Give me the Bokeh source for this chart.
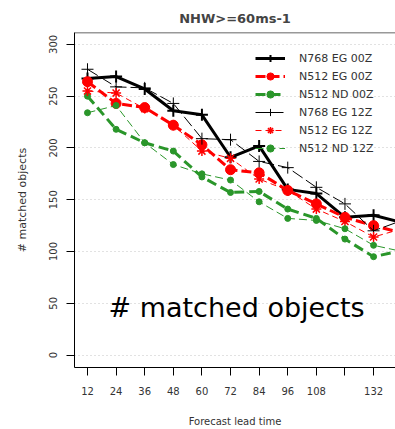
from bokeh.plotting import figure
from bokeh.models import Range1d, FixedTicker, Legend, LegendItem, Label, Span
from bokeh.embed import file_html
from bokeh.resources import INLINE

# ---- data ----
lead_times = [12, 24, 36, 48, 60, 72, 84, 96, 108, 120, 132, 144]
n768_eg_00z = [267, 269, 257, 236, 232, 191, 202, 160, 156, 133, 135, 128]
n512_eg_00z = [264, 243, 239, 222, 203, 179, 176, 159, 146, 133, 125, 118]
n512_nd_00z = [250, 218, 205, 197, 172, 157, 158, 141, 132, 112, 95, 101]
n768_eg_12z = [276, 259, 258, 243, 209, 208, 187, 181, 162, 146, 120, 130]
n512_eg_12z = [255, 253, 238, 222, 197, 190, 170, 159, 141, 129, 114, 122]
n512_nd_12z = [234, 241, 205, 184, 175, 169, 148, 132, 130, 122, 106, 100]

x_ticks = [12, 24, 36, 48, 60, 72, 84, 96, 108, 120, 132, 144]
x_tick_hidden = [120]
y_ticks = [0, 50, 100, 150, 200, 250, 300]

title_text = "NHW>=60ms-1"
x_label = "Forecast lead time"
y_label = "# matched objects"
big_label = "# matched objects"

FONT = "DejaVu Sans"
RED = "#ff0000"
GREEN = "#2a962a"
BLACK = "#000000"

p = figure(width=395, height=429, output_backend="svg", toolbar_location=None,
           x_range=Range1d(6.55, 141.2), y_range=Range1d(-12, 311.5),
           min_border_left=74, min_border_right=0, min_border_top=32,
           min_border_bottom=59)
p.outline_line_color = None
p.background_fill_color = "white"
p.border_fill_color = "white"

# title
p.title.text = title_text
p.title.text_font = FONT
p.title.text_font_size = "13px"
p.title.text_font_style = "bold"
p.title.align = "center"
p.title.offset = 8
p.title.standoff = 13

# grid
p.xgrid.grid_line_color = None
p.ygrid.ticker = FixedTicker(ticks=y_ticks)
p.ygrid.grid_line_color = "#c4c4c4"
p.ygrid.grid_line_dash = "1 3"
p.ygrid.grid_line_width = 1

# axes
for ax in (p.xaxis[0], p.yaxis[0]):
    ax.axis_line_color = "black"
    ax.axis_line_width = 1
    ax.major_tick_line_color = "black"
    ax.major_tick_in = 0
    ax.major_tick_out = 8
    ax.minor_tick_line_color = None
    ax.major_label_text_font = FONT
    ax.major_label_text_font_size = "10px"
    ax.major_label_text_color = "#333333"
    ax.axis_label_text_font = FONT
    ax.axis_label_text_font_style = "normal"
    ax.axis_label_text_color = "#333333"

p.xaxis.ticker = FixedTicker(ticks=x_ticks)
p.xaxis.major_label_overrides = {t: "" for t in x_tick_hidden}
p.xaxis.axis_label = x_label
p.xaxis.axis_label_text_font_size = "10px"
p.xaxis.major_label_standoff = 11
p.xaxis.axis_label_standoff = 18

p.yaxis.ticker = FixedTicker(ticks=y_ticks)
p.yaxis.major_label_orientation = "vertical"
p.yaxis.axis_label = y_label
p.yaxis.axis_label_text_font_size = "11px"
p.yaxis.major_label_standoff = 9
p.yaxis.axis_label_standoff = 18

# top frame line
p.add_layout(Span(location=311.3, dimension="width", line_color="black", line_width=1))

# series
series = [
    ("N768 EG 00Z", n768_eg_00z, BLACK, 3, "solid", "cross", 12, 2, None),
    ("N512 EG 00Z", n512_eg_00z, RED, 3, "10 4", "circle", 10, 1, RED),
    ("N512 ND 00Z", n512_nd_00z, GREEN, 3, "10 5", "circle", 6, 1, GREEN),
    ("N768 EG 12Z", n768_eg_12z, BLACK, 1, "12 4", "cross", 12, 1, None),
    ("N512 EG 12Z", n512_eg_12z, RED, 1, "6 4", "asterisk", 10, 1.5, None),
    ("N512 ND 12Z", n512_nd_12z, GREEN, 1, "8 4", "circle", 6, 1, GREEN),
]

items = []
for name, vals, col, lw, dash, marker, msize, mlw, fill in series:
    lr = p.line(lead_times, vals, line_color=col, line_width=lw, line_dash=dash)
    sr = p.scatter(lead_times, vals, marker=marker, size=msize, line_color=col,
                   line_width=mlw, fill_color=fill)
    items.append(LegendItem(label=name, renderers=[lr, sr]))

legend = Legend(items=items, location=(181, 210))
legend.background_fill_alpha = 0
legend.border_line_color = None
legend.margin = 0
legend.padding = 0
legend.spacing = 0
legend.glyph_width = 30
legend.glyph_height = 18
legend.label_height = 18
legend.label_standoff = 14
legend.label_text_font = FONT
legend.label_text_font_size = "11px"
legend.label_text_color = "#333333"
p.add_layout(legend)

# big overlay label
p.add_layout(Label(x=20.8, y=46, text=big_label, text_font=FONT,
                   text_font_size="27px", text_color="black",
                   text_baseline="alphabetic"))

open("out.html", "w").write(file_html(p, INLINE))
